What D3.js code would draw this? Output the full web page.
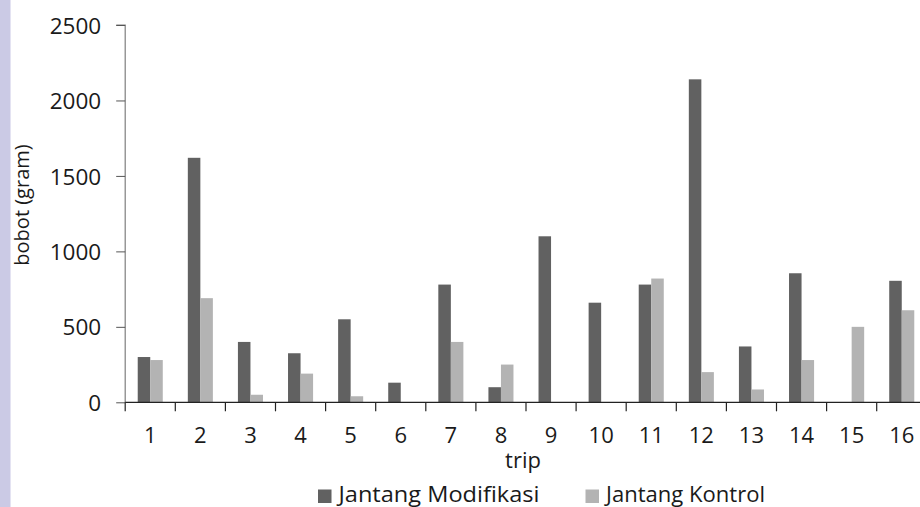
<!DOCTYPE html>
<html>
<head>
<meta charset="utf-8">
<script src="https://cdn.jsdelivr.net/npm/d3@7"></script>
<style>
  html, body { margin: 0; padding: 0; background: #fff; overflow: hidden; }
  svg { display: block; }
  text { font-family: "Open Sans", Lato, sans-serif; fill: #1a1a1a; }
</style>
</head>
<body>
<svg id="chart" width="920" height="507"></svg>
<script>
// Catch weight per trip for the two funnel types
const trips = ["1","2","3","4","5","6","7","8","9","10","11","12","13","14","15","16"];
const modifikasi = [300, 1620, 400, 325, 550, 130, 780, 100, 1100, 660, 780, 2140, 370, 855, 0, 805];
const kontrol    = [280, 690, 50, 190, 40, 0, 400, 250, 0, 0, 820, 200, 85, 280, 500, 610];
const seriesNames = ["Jantang Modifikasi", "Jantang Kontrol"];
const yTicks = [0, 500, 1000, 1500, 2000, 2500];

const colors = ["#616161", "#b3b3b3"];
const FS = 20;
const svg = d3.select("#chart");

// left decorative strip
svg.append("rect").attr("x", 0).attr("y", 0).attr("width", 10).attr("height", 507).attr("fill", "#cbcae5");
svg.append("rect").attr("x", 10).attr("y", 0).attr("width", 1).attr("height", 507).attr("fill", "#e4e3f2");

const x = d3.scaleBand().domain(trips).range([125.2, 926.8]).paddingInner(0).paddingOuter(0);
const y = d3.scaleLinear().domain([0, 2500]).range([402.3, 25]);
const inner = d3.scaleBand().domain([0, 1]).range([x.bandwidth() * 0.25, x.bandwidth() * 0.75]);

const rows = trips.map((t, i) => ({ trip: t, vals: [modifikasi[i], kontrol[i]] }));

const groups = svg.append("g").selectAll("g").data(rows).join("g")
  .attr("transform", d => `translate(${x(d.trip)},0)`);
groups.selectAll("rect").data(d => d.vals.map((v, k) => ({ v, k }))).join("rect")
  .filter(d => d.v > 0)
  .attr("x", d => inner(d.k))
  .attr("width", inner.bandwidth())
  .attr("y", d => y(d.v))
  .attr("height", d => y(0) - y(d.v))
  .attr("fill", d => colors[d.k]);

// y axis
const yAxis = d3.axisLeft(y).tickValues(yTicks).tickSize(9).tickPadding(15).tickFormat(d3.format("d"));
const gy = svg.append("g").attr("transform", "translate(125.2,0)").call(yAxis);
gy.select(".domain").attr("stroke", "#7f7f7f").attr("stroke-width", 1.2).attr("d", `M-9,${y(2500)}H0V${y(0)}`);
gy.selectAll(".tick line").attr("stroke", "#555");
gy.selectAll(".tick text").attr("font-size", 22.5).attr("fill", "#1a1a1a").attr("font-family", "'Open Sans', sans-serif")
  .attr("dy", "0.36em");

// x axis: ticks on band boundaries
const xAxisLine = svg.append("g");
xAxisLine.append("line").attr("x1", 125.2).attr("x2", 926.8).attr("y1", y(0)).attr("y2", y(0))
  .attr("stroke", "#222").attr("stroke-width", 1.2);
xAxisLine.selectAll("line.tk").data(trips).join("line").attr("class", "tk")
  .attr("x1", d => x(d) + x.bandwidth()).attr("x2", d => x(d) + x.bandwidth())
  .attr("y1", y(0)).attr("y2", y(0) + 9).attr("stroke", "#222").attr("stroke-width", 1.2);
xAxisLine.append("line").attr("x1", 125.2).attr("x2", 125.2).attr("y1", y(0)).attr("y2", y(0) + 9)
  .attr("stroke", "#222").attr("stroke-width", 1.2);
xAxisLine.selectAll("text").data(trips).join("text")
  .attr("x", d => x(d) + x.bandwidth() / 2).attr("y", 443)
  .attr("text-anchor", "middle").attr("font-size", 22).text(d => d);

// axis titles
svg.append("text").attr("x", 523).attr("y", 468).attr("text-anchor", "middle").attr("font-size", 22).text("trip");
svg.append("text").attr("transform", "translate(29,205) rotate(-90)").attr("text-anchor", "middle")
  .attr("font-size", FS).text("bobot (gram)");

// legend
const legendX = [318, 585.5];
const legendTextLen = [201, 159];
const lg = svg.append("g").selectAll("g").data(seriesNames).join("g")
  .attr("transform", (d, i) => `translate(${legendX[i]},0)`);
lg.append("rect").attr("x", 0).attr("y", 489.5).attr("width", 13.5).attr("height", 13.5).attr("fill", (d, i) => colors[i]);
lg.append("text").attr("x", 20.5).attr("y", 501.5).attr("font-size", 22)
  .attr("textLength", (d, i) => legendTextLen[i]).attr("lengthAdjust", "spacingAndGlyphs")
  .text(d => d);
</script>
</body>
</html>
